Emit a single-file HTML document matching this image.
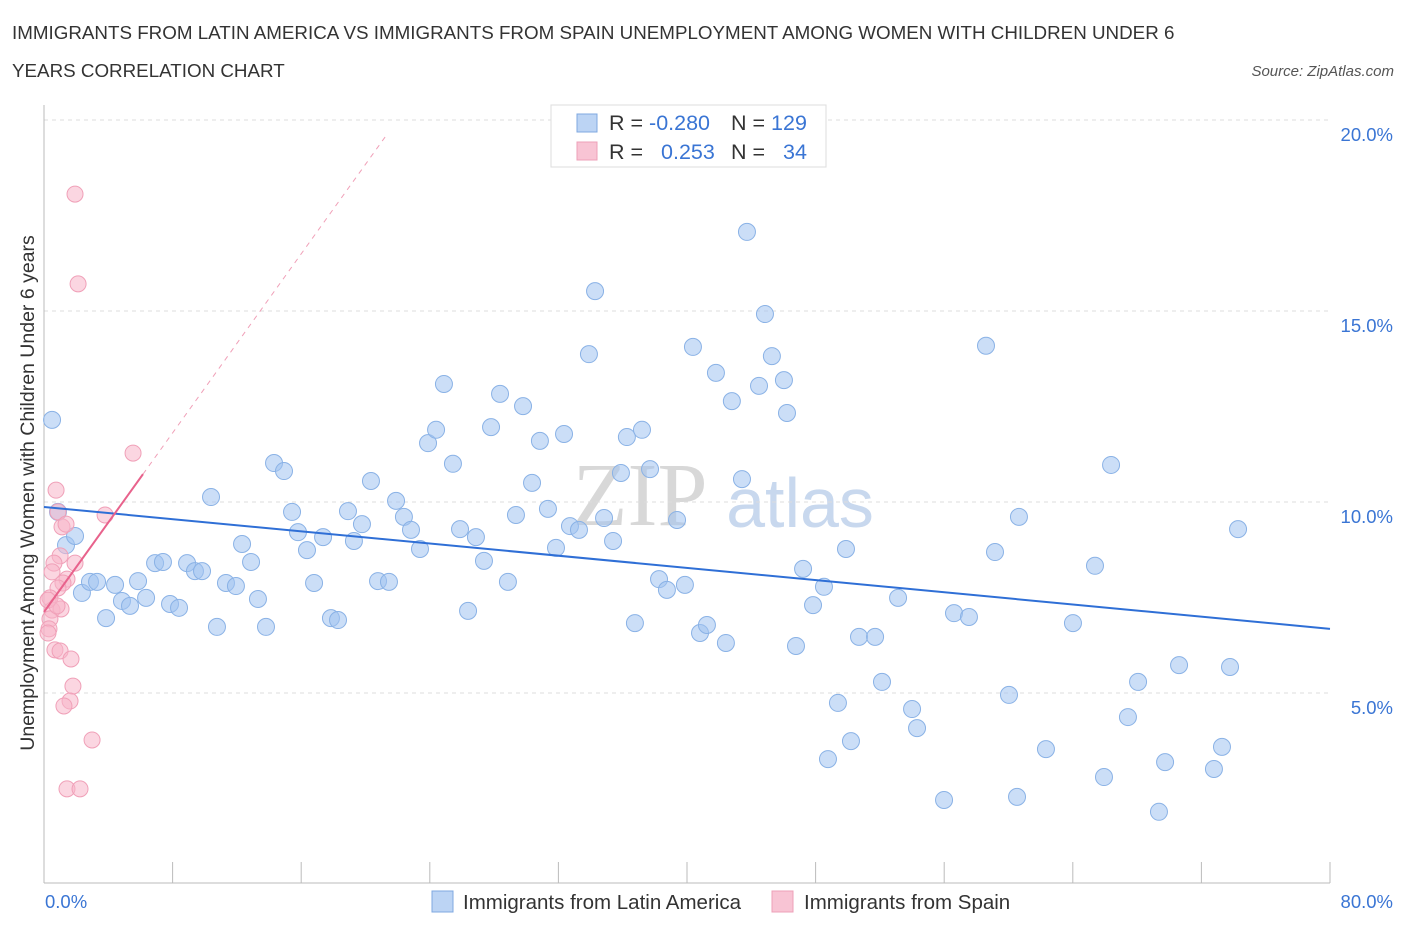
<!DOCTYPE html>
<html><head><meta charset="utf-8"><style>
body{margin:0;background:#fff;font-family:"Liberation Sans",sans-serif;}
svg{display:block}
</style></head><body>
<svg id="chart" width="1406" height="930">
<text x="12" y="39" font-size="18.8" fill="#333">IMMIGRANTS FROM LATIN AMERICA VS IMMIGRANTS FROM SPAIN UNEMPLOYMENT AMONG WOMEN WITH CHILDREN UNDER 6</text>
<text x="12" y="77" font-size="18.8" fill="#333">YEARS CORRELATION CHART</text>
<text x="1394" y="76" font-size="15" fill="#555" font-style="italic" text-anchor="end">Source: ZipAtlas.com</text>
<text x="640" y="525" font-size="90" fill="#d8d8d8" font-family="Liberation Serif" text-anchor="middle">ZIP</text>
<text x="800" y="527" font-size="70" fill="#c8d8ee" text-anchor="middle">atlas</text>
<text transform="translate(34,493) rotate(-90)" font-size="19.5" fill="#333" text-anchor="middle">Unemployment Among Women with Children Under 6 years</text>
<g id="grid"></g><g id="pts"></g><g id="trend"></g>
<g>
<rect x="551" y="105" width="275" height="62" fill="#fff" stroke="#ddd"/>
<rect x="577" y="114" width="20" height="18" fill="#bcd4f4" stroke="#7fa8e0"/>
<rect x="577" y="142" width="20" height="18" fill="#f8c4d4" stroke="#eea0b8"/>
<text x="609" y="130" font-size="21.5" fill="#333">R = <tspan fill="#3a75d4">-0.280</tspan></text>
<text x="731" y="130" font-size="21.5" fill="#333">N = <tspan fill="#3a75d4">129</tspan></text>
<text x="609" y="159" font-size="21.5" fill="#333">R = <tspan fill="#3a75d4" dx="12">0.253</tspan></text>
<text x="731" y="159" font-size="21.5" fill="#333">N = <tspan fill="#3a75d4" dx="12">34</tspan></text>
</g>
<g>
<rect x="432" y="891" width="21" height="21" fill="#bcd4f4" stroke="#7fa8e0"/>
<text x="463" y="909" font-size="20.5" fill="#333">Immigrants from Latin America</text>
<rect x="772" y="891" width="21" height="21" fill="#f8c4d4" stroke="#eea0b8"/>
<text x="804" y="909" font-size="20.5" fill="#333">Immigrants from Spain</text>
</g>
<text x="45" y="908" font-size="18.5" fill="#3a75d4">0.0%</text>
<text x="1393" y="908" font-size="18.5" fill="#3a75d4" text-anchor="end">80.0%</text>
</svg>
<script>
const blueX=[0.5,0.87,1.37,1.93,2.36,2.86,3.30,3.86,4.42,4.85,5.35,5.85,6.35,6.91,7.40,7.84,8.40,8.90,9.39,9.83,10.39,10.76,11.32,11.94,12.32,12.88,13.31,13.81,14.31,14.93,15.43,15.80,16.36,16.80,17.36,17.85,18.29,18.91,19.28,19.78,20.34,20.78,21.46,21.90,22.39,22.83,23.39,23.89,24.39,24.88,25.44,25.88,26.38,26.87,27.37,27.81,28.37,28.86,29.36,29.80,30.36,30.85,31.35,31.85,32.35,32.72,33.28,33.90,34.28,34.84,35.40,35.89,36.26,36.76,37.20,37.70,38.26,38.75,39.38,39.87,40.37,40.81,41.24,41.80,42.42,42.79,43.42,43.73,44.48,44.85,45.28,46.03,46.22,46.78,47.22,47.84,48.52,48.77,49.39,49.89,50.20,50.70,51.70,52.13,53.13,54.00,54.31,55.99,56.61,57.54,58.60,59.16,60.03,60.53,60.65,62.33,64.01,65.38,65.94,66.38,67.43,68.06,69.36,69.74,70.61,72.78,73.28,73.78,74.28];
const blueY=[12.15,9.74,8.87,9.11,7.62,7.91,7.91,6.96,7.83,7.41,7.28,7.93,7.49,8.40,8.43,7.33,7.23,8.40,8.19,8.19,10.13,6.73,7.88,7.80,8.90,8.43,7.46,6.73,11.02,10.81,9.74,9.21,8.74,7.88,9.08,6.96,6.91,9.76,8.98,9.42,10.55,7.93,7.91,10.03,9.61,9.27,8.77,11.54,11.89,13.09,11.00,9.29,7.15,9.08,8.46,11.96,12.83,7.91,9.66,12.51,10.50,11.60,9.82,8.80,11.78,9.37,9.27,13.87,15.52,9.58,8.98,10.76,11.70,6.83,11.89,10.86,7.98,7.70,9.53,7.83,14.06,6.57,6.78,13.38,6.31,12.64,10.60,17.07,13.04,14.92,13.82,13.19,12.33,6.23,8.25,7.30,7.78,3.27,4.74,8.77,3.74,6.47,6.47,5.29,7.49,4.58,4.08,2.20,7.09,6.99,14.09,8.69,4.95,2.28,9.61,3.53,6.83,8.33,2.80,10.97,4.37,5.29,1.89,3.19,5.73,3.01,3.59,5.68,9.29];
const pinkX=[1.93,2.12,5.54,0.75,0.87,1.12,1.37,1.0,0.62,1.93,1.43,1.18,0.87,0.37,0.5,1.06,0.37,0.31,0.25,0.68,1.0,1.68,1.80,1.62,1.24,2.99,1.43,2.24,3.80,0.25,0.5,0.81];
const pinkY=[18.06,15.71,11.28,10.31,9.74,9.35,9.42,8.59,8.40,8.40,7.98,7.88,7.75,7.49,7.17,7.20,6.94,6.68,6.57,6.13,6.10,5.89,5.18,4.79,4.66,3.77,2.49,2.49,9.66,7.43,8.17,7.28];
const yTicks=[5,10,15,20];
const xTicks=[0,8,16,24,32,40,48,56,64,72,80];
const blueTrend=[9.87,6.68];
const pinkTrend=[7.12,0.586];
const NS="http://www.w3.org/2000/svg";
const X=v=>44+v*16.075, Y=v=>884-v*38.2;
function mk(tag,attrs,parent){const e=document.createElementNS(NS,tag);for(const k in attrs)e.setAttribute(k,attrs[k]);parent.appendChild(e);return e;}
const grid=document.getElementById('grid');
yTicks.forEach(t=>{
 const l=mk('line',{x1:44,x2:1330,y1:Y(t),y2:Y(t),stroke:'#ddd','stroke-dasharray':'4,4'},grid);
 
 
 const tx=mk('text',{x:1393,y:Y(t)+21,'font-size':18.5,fill:'#3a75d4','text-anchor':'end'},grid);
 tx.textContent=t.toFixed(1)+'%';
 
 
});
const ax=mk('line',{x1:44,x2:1330,y1:883,y2:883,stroke:'#bbb'},grid);


const ay=mk('line',{x1:44,x2:44,y1:105,y2:883,stroke:'#bbb'},grid);


xTicks.forEach(t=>{
 const l=mk('line',{x1:X(t),x2:X(t),y1:862,y2:883,stroke:'#bbb'},grid);
 
 
});
const pts=document.getElementById('pts');
blueX.forEach((x,i)=>{
 const c=mk('circle',{cx:X(x),cy:Y(blueY[i]),r:8.5,fill:'rgba(160,195,240,0.55)',stroke:'#8ab2e6','stroke-width':1},pts);
 
 
});
pinkX.forEach((x,i)=>{
 const c=mk('circle',{cx:X(x),cy:Y(pinkY[i]),r:8,fill:'rgba(248,180,200,0.55)',stroke:'#f0a0b8','stroke-width':1},pts);
 
 
});
const tr=document.getElementById('trend');
const bt=mk('line',{x1:X(0),y1:Y(blueTrend[0]),x2:X(80),y2:Y(blueTrend[1]),stroke:'#2f6fd6','stroke-width':2},tr);


const pd=mk('line',{x1:X(6.16),y1:Y(pinkTrend[0]+pinkTrend[1]*6.16),x2:X(21.4),y2:Y(pinkTrend[0]+pinkTrend[1]*21.4),stroke:'#f0a0b8','stroke-width':1,'stroke-dasharray':'5,5'},tr);


const ps=mk('line',{x1:X(0),y1:Y(pinkTrend[0]),x2:X(6.16),y2:Y(pinkTrend[0]+pinkTrend[1]*6.16),stroke:'#e8628c','stroke-width':2},tr);


</script>
</body></html>
